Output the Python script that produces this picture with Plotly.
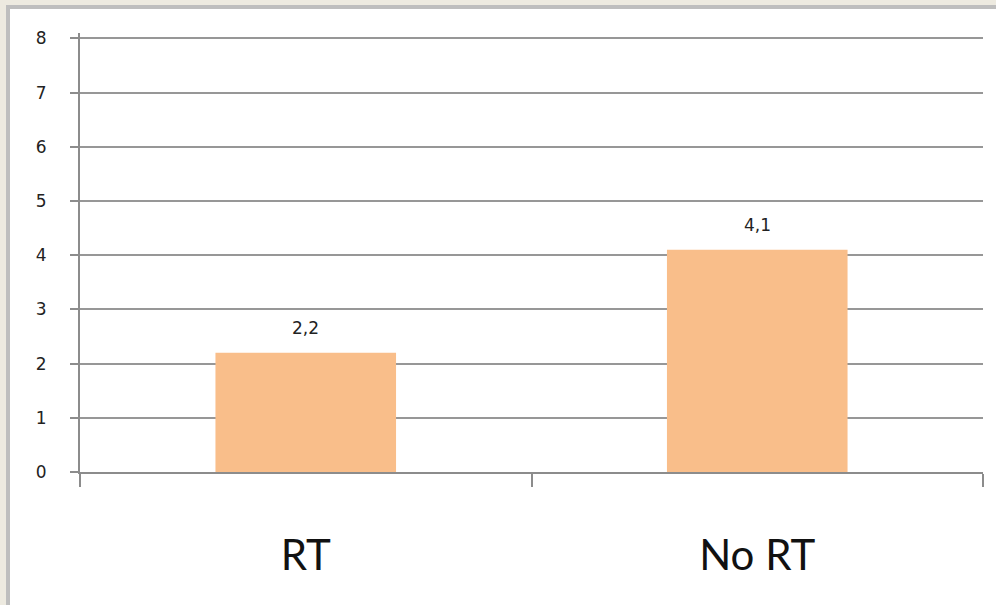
import plotly.graph_objects as go

categories = ["RT", "No RT"]
values = [2.2, 4.1]
y_ticks = [0, 1, 2, 3, 4, 5, 6, 7, 8]

W, H = 996, 605
ML, MR, MT, MB = 80, 13, 33, 133
PW, PH = W - ML - MR, H - MT - MB

def px_x(px):
    return (px - ML) / PW

def px_y(py):
    return (H - MB - py) / PH

fig = go.Figure()
fig.add_trace(go.Bar(
    x=categories, y=values,
    marker=dict(color="#F9BE8A", line=dict(width=0)),
    width=0.4,
    hoverinfo="skip",
))

for c, v in zip(categories, values):
    fig.add_annotation(
        x=c, y=v, xref="x", yref="y",
        text=("%.1f" % v).replace(".", ","),
        showarrow=False, yanchor="bottom", yshift=13,
        font=dict(family="DejaVu Sans", size=17, color="#222222"),
    )

shapes = [
    dict(type="rect", xref="paper", yref="paper", layer="below",
         x0=px_x(6), x1=px_x(1000), y0=px_y(5), y1=px_y(610),
         fillcolor="#BEBEBE", line=dict(width=0)),
    dict(type="rect", xref="paper", yref="paper", layer="below",
         x0=px_x(10), x1=px_x(1000), y0=px_y(9), y1=px_y(610),
         fillcolor="#FFFFFF", line=dict(width=0)),
]

fig.update_layout(
    width=W, height=H,
    margin=dict(l=ML, r=MR, t=MT, b=MB, pad=0),
    paper_bgcolor="#EDEAE0",
    plot_bgcolor="#FFFFFF",
    showlegend=False,
    shapes=shapes,
    xaxis=dict(
        type="category",
        showline=True, linecolor="#8C8C8C", linewidth=2,
        ticks="outside", tickson="boundaries", ticklen=13,
        tickcolor="#8C8C8C", tickwidth=2,
        showgrid=False,
        tickfont=dict(family="Lato", size=42, color="#111111"),
        ticklabelstandoff=46,
    ),
    yaxis=dict(
        range=[0, 8.1], tickvals=y_ticks, ticktext=[str(t) for t in y_ticks],
        showline=True, linecolor="#8C8C8C", linewidth=2,
        ticks="outside", ticklen=8, tickcolor="#8C8C8C", tickwidth=2,
        showgrid=True, gridcolor="#979797", gridwidth=2,
        zeroline=False,
        tickfont=dict(family="DejaVu Sans", size=17, color="#222222"),
        ticklabelstandoff=20,
    ),
)

fig.write_html("out.html")
